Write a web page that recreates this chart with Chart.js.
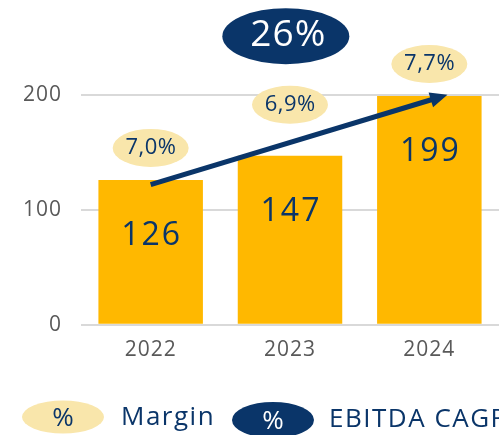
<!DOCTYPE html>
<html>
<head>
<meta charset="utf-8">
<script src="https://cdn.jsdelivr.net/npm/chart.js@4"></script>
<style>
	body { margin: 0; background: #fff; }
	#chart { position: absolute; left: 0; top: 0; }
</style>
</head>
<body>
<canvas id="chart" width="499" height="435"></canvas>
<script>
var years = ['2022', '2023', '2024'];
var ebitda = [126, 147, 199];
var margins = ['7,0%', '6,9%', '7,7%'];
var cagr = '26%';
var yTicks = [0, 100, 200];

var NAVY = '#0a3569';
var YELLOW = '#ffb800';
var PALE = '#f9e6ab';
var FONT = '"Open Sans", "Noto Sans", sans-serif';

function ellipse(ctx, cx, cy, w, h, fill) {
	ctx.beginPath();
	ctx.ellipse(cx, cy, w / 2, h / 2, 0, 0, Math.PI * 2);
	ctx.fillStyle = fill;
	ctx.fill();
}

function label(ctx, text, x, y, size, color, spacing) {
	ctx.font = size + 'px ' + FONT;
	ctx.letterSpacing = (spacing || 0) + 'px';
	ctx.fillStyle = color;
	ctx.textAlign = 'center';
	ctx.textBaseline = 'middle';
	ctx.fillText(text, x + (spacing || 0) / 2, y);
}

var decor = {
	id: 'decor',
	beforeDraw: function (chart) {
		// a touch of tracking on the axis labels
		chart.ctx.letterSpacing = '1px';
	},
	afterDatasetsDraw: function (chart) {
		var ctx = chart.ctx;
		var xs = chart.scales.x, ys = chart.scales.y;
		var meta = chart.getDatasetMeta(0);
		ctx.save();

		// value labels inside bars
		meta.data.forEach(function (bar, i) {
			label(ctx, String(ebitda[i]), bar.x, bar.y + 56, 32, NAVY, 2);
		});

		// margin bubbles above bars (middle one lifted over the arrow)
		var lift = [32, 51, 32];
		meta.data.forEach(function (bar, i) {
			var cy = bar.y - lift[i];
			ellipse(ctx, bar.x, cy, 76, 38, PALE);
			label(ctx, margins[i], bar.x, cy, 22, NAVY, 0.5);
		});

		// growth arrow
		var x1 = xs.getPixelForValue(0), y1 = ys.getPixelForValue(122);
		var x2 = xs.getPixelForValue(2.13), y2 = ys.getPixelForValue(200);
		var a = Math.atan2(y2 - y1, x2 - x1);
		var head = 19;
		ctx.strokeStyle = NAVY;
		ctx.lineWidth = 5;
		ctx.beginPath();
		ctx.moveTo(x1, y1);
		ctx.lineTo(x2 - Math.cos(a) * head * 0.8, y2 - Math.sin(a) * head * 0.8);
		ctx.stroke();
		ctx.fillStyle = NAVY;
		ctx.beginPath();
		ctx.moveTo(x2, y2);
		ctx.lineTo(x2 - head * Math.cos(a - 0.42), y2 - head * Math.sin(a - 0.42));
		ctx.lineTo(x2 - head * Math.cos(a + 0.42), y2 - head * Math.sin(a + 0.42));
		ctx.closePath();
		ctx.fill();

		// CAGR bubble
		var cx = xs.getPixelForValue(0.97), cy = ys.getPixelForValue(251);
		ellipse(ctx, cx, cy, 127, 56, NAVY);
		label(ctx, cagr, cx + 2, cy - 1, 37, '#fff', 1);

		// legend
		ellipse(ctx, 63, 417, 82, 33, PALE);
		label(ctx, '%', 63, 419, 26, NAVY);
		ellipse(ctx, 273, 420, 82, 36, NAVY);
		label(ctx, '%', 273, 422, 26, '#fff');
		ctx.font = '26px ' + FONT;
		ctx.fillStyle = NAVY;
		ctx.textAlign = 'left';
		ctx.textBaseline = 'middle';
		ctx.letterSpacing = '1.5px';
		ctx.fillText('Margin', 121, 418);
		ctx.fillText('EBITDA CAGR', 329, 420);
		ctx.restore();
	}
};

var ctx = document.getElementById('chart').getContext('2d');
var chart = new Chart(ctx, {
	type: 'bar',
	data: {
		labels: years,
		datasets: [{
			data: ebitda,
			backgroundColor: YELLOW,
			barPercentage: 0.75,
			categoryPercentage: 1
		}]
	},
	options: {
		responsive: false,
		animation: false,
		layout: { padding: { top: 0, left: 0, right: 0, bottom: 67 } },
		plugins: { legend: { display: false }, tooltip: { enabled: false } },
		scales: {
			x: {
				grid: { display: false },
				border: { display: false },
				ticks: { color: '#595959', padding: 5, font: { family: FONT, size: 21 } }
			},
			y: {
				min: 0,
				max: 255,
				afterFit: function (scale) { scale.width = 81; },
				afterBuildTicks: function (scale) {
					scale.ticks = yTicks.map(function (v) { return { value: v }; });
				},
				grid: { color: '#d9d9d9', lineWidth: 2, drawTicks: false },
				border: { display: false },
				ticks: { color: '#595959', padding: 19, font: { family: FONT, size: 21 } }
			}
		}
	},
	plugins: [decor]
});
</script>
</body>
</html>
